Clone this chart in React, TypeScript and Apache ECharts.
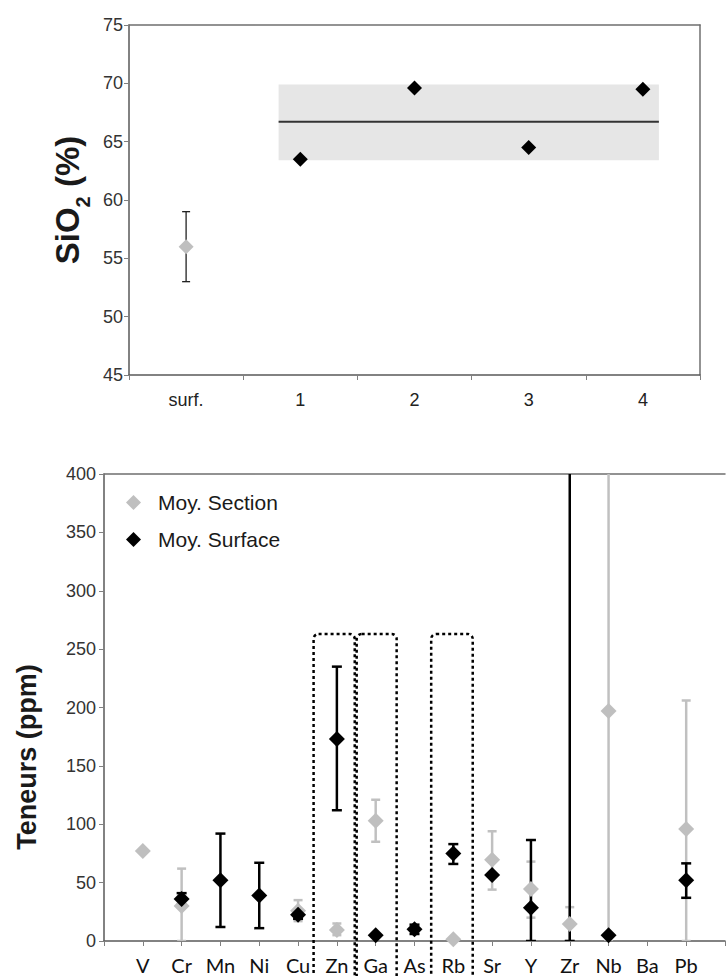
import React, { useEffect, useRef } from "react";
import * as echarts from "echarts";

// ---- Top chart (SiO2) ----
const topCategories = ["surf.", "1", "2", "3", "4"];
const surfSiO2 = [[0, 56]];
const surfSiO2Err = [[0, 53, 59]];
const sectionSiO2 = [
  [1, 63.5],
  [2, 69.6],
  [3, 64.5],
  [4, 69.5],
];
// band: x-start, x-end (category index units), low, high, mean
const sectionBand = [[0.81, 4.14, 63.4, 69.9, 66.7]];

// ---- Bottom chart (trace elements) ----
const elements = ["V", "Cr", "Mn", "Ni", "Cu", "Zn", "Ga", "As", "Rb", "Sr", "Y", "Zr", "Nb", "Ba", "Pb"];
const sectionMean = [77, 30, null, null, 26, 9.5, 103, null, 1.5, 69.5, 44.5, 14.5, 197, null, 96];
const sectionLow = [null, 0, null, null, 17, 5, 85, null, null, 44, 20, 0, 0, null, 0];
const sectionHigh = [null, 62, null, null, 35, 15, 121, null, null, 94, 68, 29, 600, null, 206];
const surfaceMean = [null, 36, 52, 39, 22.5, 173, 5, 10, 75, 56.5, 28.5, 470, 5, null, 52];
const surfaceLow = [null, 31, 12, 11, 19, 112, null, 6, 66, null, 0, 0, null, null, 37];
const surfaceHigh = [null, 41, 92, 67, 26, 235, null, 14, 83, null, 86.5, 1000, null, null, 66.5];
// dotted highlight boxes: x-start, x-end, top value
const highlightBoxes = [
  [5.4, 6.46, 263],
  [6.51, 7.54, 263],
  [8.43, 9.5, 263],
];

const pts = (mean: (number | null)[]) =>
  mean.map((v, i) => (v == null ? null : [i + 1, v])).filter((d) => d !== null);
const errs = (lo: (number | null)[], hi: (number | null)[]) =>
  lo.map((l, i) => (l == null || hi[i] == null ? null : [i + 1, l, hi[i]])).filter((d) => d !== null);

const errorBar = (color: string, width: number, cap: number) => (params: any, api: any) => {
  const x = api.value(0);
  const lo = api.value(1);
  const hi = api.value(2);
  const p1 = api.coord([x, hi]);
  const p2 = api.coord([x, lo]);
  const style = { stroke: color, lineWidth: width };
  const w = cap / 2;
  return {
    type: "group",
    children: [
      { type: "line", shape: { x1: p1[0], y1: p1[1], x2: p2[0], y2: p2[1] }, style },
      { type: "line", shape: { x1: p1[0] - w, y1: p1[1], x2: p1[0] + w, y2: p1[1] }, style },
      { type: "line", shape: { x1: p2[0] - w, y1: p2[1], x2: p2[0] + w, y2: p2[1] }, style },
    ],
  };
};

const FONT = "Liberation Sans";

export default function App() {
  const ref = useRef<HTMLDivElement>(null);
  useEffect(() => {
    if (!ref.current) return;
    const chart = echarts.init(ref.current, null, { renderer: "svg" });
    const axisLineDark = { show: true, onZero: false, lineStyle: { color: "#595959", width: 1.5 } };
    const borderOnly = {
      axisLine: { show: true, onZero: false, lineStyle: { color: "#6f6f6f", width: 1.5 } },
      axisTick: { show: false },
      axisLabel: { show: false },
      splitLine: { show: false },
    };
    chart.setOption({
      animation: false,
      backgroundColor: "#ffffff",
      grid: [
        { left: 129, top: 25, width: 571, height: 350 },
        { left: 104, top: 474, width: 634, height: 467 },
      ],
      legend: {
        orient: "vertical",
        left: 121,
        top: 487,
        itemWidth: 15,
        itemHeight: 15,
        itemGap: 16,
        data: ["Moy. Section", "Moy. Surface"],
        textStyle: { fontFamily: FONT, fontSize: 21, color: "#1a1a1a", padding: [0, 0, 0, 12] },
      },
      xAxis: [
        {
          gridIndex: 0,
          type: "category",
          data: topCategories,
          position: "bottom",
          axisLine: axisLineDark,
          axisTick: { show: true, length: 5, lineStyle: { color: "#808080" } },
          axisLabel: { fontFamily: FONT, fontSize: 18, color: "#222", margin: 16 },
          splitLine: { show: false },
        },
        { gridIndex: 0, type: "value", min: -0.5, max: 4.5, show: false },
        { gridIndex: 0, type: "value", position: "top", min: 0, max: 1, ...borderOnly },
        {
          gridIndex: 1,
          type: "value",
          min: 0,
          max: 16,
          interval: 1,
          position: "bottom",
          axisLine: axisLineDark,
          axisTick: { show: true, length: 5, lineStyle: { color: "#808080" } },
          axisLabel: {
            fontFamily: "Lato",
            fontSize: 20,
            color: "#111",
            margin: 14,
            formatter: (v: number) => elements[v - 1] ?? "",
          },
          splitLine: { show: false },
        },
        { gridIndex: 1, type: "value", position: "top", min: 0, max: 16, ...borderOnly },
      ],
      yAxis: [
        {
          gridIndex: 0,
          type: "value",
          min: 45,
          max: 75,
          interval: 5,
          axisLine: axisLineDark,
          axisTick: { show: true, length: 5, lineStyle: { color: "#808080" } },
          axisLabel: { fontFamily: FONT, fontSize: 18, color: "#333", margin: 6 },
          splitLine: { show: false },
        },
        { gridIndex: 0, type: "value", position: "right", min: 0, max: 1, ...borderOnly },
        {
          gridIndex: 1,
          type: "value",
          min: 0,
          max: 400,
          interval: 50,
          axisLine: axisLineDark,
          axisTick: { show: true, length: 5, lineStyle: { color: "#808080" } },
          axisLabel: { fontFamily: FONT, fontSize: 18, color: "#333", margin: 8 },
          splitLine: { show: false },
        },
      ],
      graphic: [
        {
          type: "text",
          x: 67,
          y: 200,
          rotation: Math.PI / 2,
          style: {
            text: "{a|SiO}{b|2}{a| (%)}",
            align: "center",
            verticalAlign: "middle",
            rich: {
              a: { fontFamily: FONT, fontSize: 33, fontWeight: "bold", fill: "#1a1a1a", lineHeight: 40 },
              b: { fontFamily: FONT, fontSize: 20, fontWeight: "bold", fill: "#1a1a1a", lineHeight: 52, verticalAlign: "bottom" },
            },
          },
        },
        {
          type: "text",
          x: 27,
          y: 757,
          rotation: Math.PI / 2,
          style: {
            text: "Teneurs (ppm)",
            align: "center",
            verticalAlign: "middle",
            fontFamily: FONT,
            fontSize: 27,
            fontWeight: "bold",
            fill: "#1a1a1a",
          },
        },
      ],
      series: [
        {
          type: "custom",
          xAxisIndex: 1,
          yAxisIndex: 0,
          data: sectionBand,
          renderItem: (params: any, api: any) => {
            const a = api.coord([api.value(0), api.value(3)]);
            const b = api.coord([api.value(1), api.value(2)]);
            const m1 = api.coord([api.value(0), api.value(4)]);
            const m2 = api.coord([api.value(1), api.value(4)]);
            return {
              type: "group",
              children: [
                { type: "rect", shape: { x: a[0], y: a[1], width: b[0] - a[0], height: b[1] - a[1] }, style: { fill: "#e6e6e6" } },
                { type: "line", shape: { x1: m1[0], y1: m1[1], x2: m2[0], y2: m2[1] }, style: { stroke: "#333", lineWidth: 2 } },
              ],
            };
          },
          z: 1,
        },
        {
          type: "custom",
          xAxisIndex: 1,
          yAxisIndex: 0,
          data: surfSiO2Err,
          renderItem: errorBar("#222", 1.3, 8),
          z: 2,
        },
        {
          type: "scatter",
          xAxisIndex: 1,
          yAxisIndex: 0,
          data: surfSiO2,
          symbol: "diamond",
          symbolSize: 15,
          itemStyle: { color: "#bfbfbf", opacity: 1 },
          z: 3,
        },
        {
          type: "scatter",
          xAxisIndex: 1,
          yAxisIndex: 0,
          data: sectionSiO2,
          symbol: "diamond",
          symbolSize: 15,
          itemStyle: { color: "#000", opacity: 1 },
          z: 3,
        },
        {
          type: "custom",
          xAxisIndex: 3,
          yAxisIndex: 2,
          data: highlightBoxes,
          clip: false,
          renderItem: (params: any, api: any) => {
            const tl = api.coord([api.value(0), api.value(2)]);
            const br = api.coord([api.value(1), 0]);
            return {
              type: "rect",
              shape: { x: tl[0], y: tl[1], width: br[0] - tl[0], height: br[1] - tl[1] + 80, r: [5, 5, 0, 0] },
              style: { fill: "none", stroke: "#000", lineWidth: 2.5, lineDash: [3, 3] },
            };
          },
          z: 1,
        },
        {
          type: "custom",
          xAxisIndex: 3,
          yAxisIndex: 2,
          data: errs(sectionLow, sectionHigh),
          clip: true,
          renderItem: errorBar("#c0c0c0", 2.5, 9),
          z: 2,
        },
        {
          type: "custom",
          xAxisIndex: 3,
          yAxisIndex: 2,
          data: errs(surfaceLow, surfaceHigh),
          clip: true,
          renderItem: errorBar("#000", 2.5, 10),
          z: 3,
        },
        {
          name: "Moy. Section",
          type: "scatter",
          xAxisIndex: 3,
          yAxisIndex: 2,
          data: pts(sectionMean),
          symbol: "diamond",
          symbolSize: 16,
          itemStyle: { color: "#bfbfbf", opacity: 1 },
          z: 4,
        },
        {
          name: "Moy. Surface",
          type: "scatter",
          xAxisIndex: 3,
          yAxisIndex: 2,
          data: pts(surfaceMean),
          symbol: "diamond",
          symbolSize: 16,
          itemStyle: { color: "#000", opacity: 1 },
          z: 5,
        },
      ],
    });
    return () => chart.dispose();
  }, []);
  return (
    <div
      ref={ref}
      style={{ position: "absolute", left: 0, top: 0, width: 728, height: 976, background: "#fff" }}
    />
  );
}
